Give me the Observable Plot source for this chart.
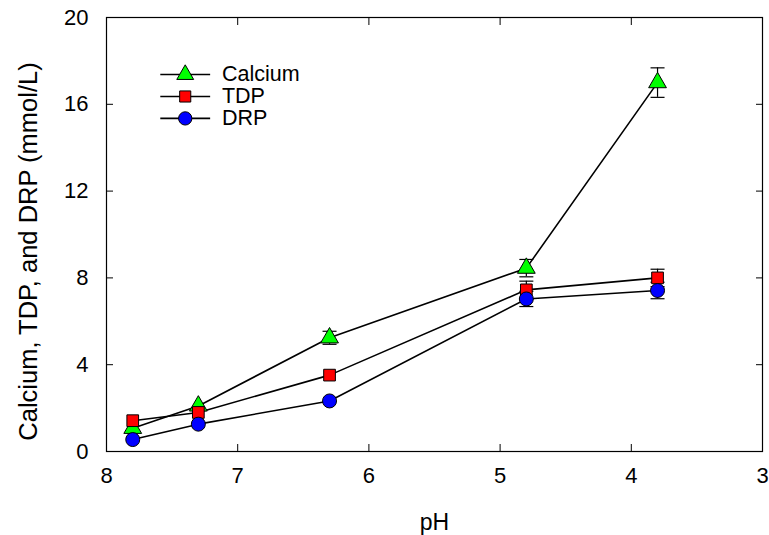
<!DOCTYPE html>
<html>
<head>
<meta charset="utf-8">
<script src="https://cdn.jsdelivr.net/npm/d3@7"></script>
<script src="https://cdn.jsdelivr.net/npm/@observablehq/plot@0.6"></script>
<style>
  html, body { margin: 0; padding: 0; background: #fff; }
  #chart svg { display: block; }
</style>
</head>
<body>
<div id="chart"></div>
<script>
// Data
const pH = [7.8, 7.3, 6.3, 4.8, 3.8];
const calcium = [1.07, 2.1, 5.24, 8.45, 17.0];
const calciumErr = [0.0, 0.0, 0.3, 0.4, 0.68];
const tdp = [1.42, 1.8, 3.52, 7.45, 8.0];
const tdpErr = [0.0, 0.0, 0.0, 0.4, 0.4];
const drp = [0.55, 1.26, 2.33, 7.03, 7.42];
const drpErr = [0.0, 0.0, 0.0, 0.35, 0.38];
const seriesNames = ["Calcium", "TDP", "DRP"];
const xTicks = [8, 7, 6, 5, 4, 3];
const yTicks = [0, 4, 8, 12, 16, 20];

const fills = {Calcium: "#00ff00", TDP: "#ff0000", DRP: "#0000ff"};
const symbols = {Calcium: "triangle", TDP: "square", DRP: "circle"};
const radii = {Calcium: 6.6, TDP: 6.6, DRP: 7};

const rows = [];
[[calcium, calciumErr], [tdp, tdpErr], [drp, drpErr]].forEach(([vals, errs], i) => {
  vals.forEach((v, j) => rows.push({series: seriesNames[i], x: pH[j], y: v, lo: v - errs[j], hi: v + errs[j], err: errs[j]}));
});
const errRows = rows.filter(d => d.err > 0);

// horizontal cap symbol for error bars
const capSymbol = {
  draw(context, size) {
    const w = 7;
    context.moveTo(-w, 0);
    context.lineTo(w, 0);
  }
};

// Legend entries (positions in data units near top-left)
const legendY = [17.37, 16.36, 15.35];
const legendX0 = 7.59, legendX1 = 7.21, legendXm = 7.40, legendXt = 7.12;
const legend = seriesNames.map((s, i) => ({series: s, y: legendY[i]}));

const marks = [];
marks.push(Plot.frame({stroke: "#000", strokeWidth: 1.2}));
// lines
seriesNames.forEach(s => {
  marks.push(Plot.line(rows.filter(d => d.series === s), {x: "x", y: "y", stroke: "#000", strokeWidth: 1.6}));
});
// error bars
marks.push(Plot.ruleX(errRows, {x: "x", y1: "lo", y2: "hi", stroke: "#000", strokeWidth: 1.2}));
marks.push(Plot.dot(errRows, {x: "x", y: "lo", symbol: capSymbol, stroke: "#000", strokeWidth: 1.2, fill: "none"}));
marks.push(Plot.dot(errRows, {x: "x", y: "hi", symbol: capSymbol, stroke: "#000", strokeWidth: 1.2, fill: "none"}));
// markers
seriesNames.forEach(s => {
  marks.push(Plot.dot(rows.filter(d => d.series === s), {
    x: "x", y: "y", symbol: symbols[s], r: radii[s], fill: fills[s], stroke: "#000", strokeWidth: 1
  }));
});
// legend
legend.forEach(d => {
  marks.push(Plot.link([d], {x1: () => legendX0, x2: () => legendX1, y1: "y", y2: "y", stroke: "#000", strokeWidth: 1.6}));
  marks.push(Plot.dot([d], {x: () => legendXm, y: "y", symbol: symbols[d.series], r: radii[d.series] * 0.95, fill: fills[d.series], stroke: "#000", strokeWidth: 1}));
  marks.push(Plot.text([d], {x: () => legendXt, y: "y", text: "series", textAnchor: "start", fontSize: 21.5, fill: "#000"}));
});
// axes with inward ticks
const fmt = d => String(d);
marks.push(Plot.axisX({anchor: "bottom", ticks: xTicks, tickFormat: fmt, tickSize: -7, tickPadding: 23, fontSize: 22, label: "pH", labelAnchor: "center", labelArrow: "none", labelOffset: 78}));
marks.push(Plot.axisX({anchor: "top", ticks: xTicks, tickSize: -7, tickFormat: () => "", label: null}));
marks.push(Plot.axisY({anchor: "left", ticks: yTicks, tickFormat: fmt, tickSize: -7, tickPadding: 25, fontSize: 22, label: "Calcium, TDP, and DRP (mmol/L)", labelAnchor: "center", labelArrow: "none", labelOffset: 88}));
marks.push(Plot.axisY({anchor: "right", ticks: yTicks, tickSize: -7, tickFormat: () => "", label: null}));

const chart = Plot.plot({
  width: 769,
  height: 535,
  marginLeft: 106,
  marginRight: 7,
  marginTop: 17,
  marginBottom: 84,
  style: {fontFamily: "Liberation Sans, Arial, sans-serif", color: "#000", background: "#fff"},
  x: {domain: [8, 3], label: "pH"},
  y: {domain: [0, 20], label: "Calcium, TDP, and DRP (mmol/L)"},
  marks
});
// font sizes of axis texts
chart.querySelectorAll('[aria-label="x-axis tick label"], [aria-label="y-axis tick label"]').forEach(g => {
  g.setAttribute("font-size", "22"); g.style.fontSize = "22px";
  g.querySelectorAll("text").forEach(t => t.setAttribute("font-size", "22"));
});
chart.querySelectorAll('[aria-label="x-axis label"]').forEach(g => { g.setAttribute("font-size", "23"); g.querySelectorAll("text").forEach(t => t.setAttribute("font-size", "23")); });
chart.querySelectorAll('[aria-label="y-axis label"]').forEach(g => {
  g.setAttribute("font-size", "25.5");
  g.querySelectorAll("text").forEach(t => { t.setAttribute("font-size", "25.5"); t.setAttribute("x", "-17"); });
});
document.getElementById("chart").appendChild(chart);
</script>
</body>
</html>
